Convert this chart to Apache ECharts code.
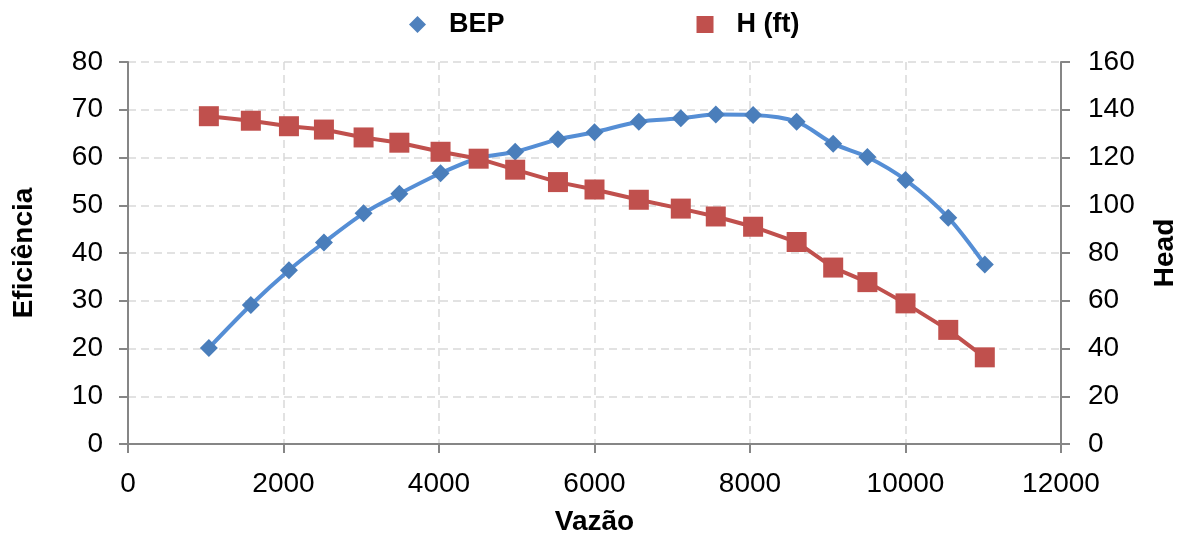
<!DOCTYPE html>
<html><head><meta charset="utf-8">
<script src="https://cdn.jsdelivr.net/npm/echarts@6/dist/echarts.min.js"></script>
<style>html,body{margin:0;padding:0;background:#fff}#c{width:1187px;height:541px}</style>
</head><body><div id="c"></div>
<script>
const flow = [1040, 1580, 2070, 2520, 3030, 3490, 4020, 4510, 4980, 5530, 6000, 6570, 7110, 7560, 8040, 8600, 9070, 9510, 10000, 10550, 11020];
const bep = [20.1, 29.1, 36.4, 42.2, 48.3, 52.4, 56.7, 59.9, 61.2, 63.8, 65.3, 67.5, 68.2, 69.0, 68.9, 67.5, 62.9, 60.1, 55.3, 47.4, 37.6];
const head = [137.3, 135.4, 133.1, 131.7, 128.4, 126.2, 122.4, 119.5, 114.9, 109.7, 106.6, 102.3, 98.6, 95.3, 91.0, 84.6, 73.9, 67.8, 58.9, 47.8, 36.3];
const xTicks = [0, 2000, 4000, 6000, 8000, 10000, 12000];

const font = 'Liberation Sans, Arial, sans-serif';
const axisLine = {show: true, lineStyle: {color: '#868686', width: 2}};
const tick = {show: true, length: 9, lineStyle: {color: '#868686', width: 2}};
const gridLine = {show: true, lineStyle: {color: '#d9d9d9', type: [8, 5], width: 1.5}};
const nameStyle = {fontSize: 28, fontWeight: 'bold', color: '#000', fontFamily: font};
const chart = echarts.init(document.getElementById('c'));
chart.setOption({
  animation: false,
  textStyle: {fontFamily: font},
  legend: {
    top: 6, left: 404, itemGap: 192, itemWidth: 17, itemHeight: 17,
    textStyle: {fontSize: 27, fontWeight: 'bold', color: '#000', fontFamily: font, padding: [0,0,0,18]},
    data: [{name: 'BEP', icon: 'diamond', itemStyle: {color: '#4F81BD'}},
           {name: 'H (ft)', icon: 'rect', itemStyle: {color: '#C0504D'}}]
  },
  grid: {left: 128, right: 121, top: 62, bottom: 95},
  xAxis: {
    type: 'value', min: 0, max: 12000, interval: 2000,
    name: 'Vazão', nameLocation: 'middle', nameGap: 64,
    nameTextStyle: nameStyle,
    axisLine: axisLine, axisTick: tick,
    axisLabel: {fontSize: 28, color: '#000', margin: 26, fontFamily: font,
      formatter: v => xTicks.includes(v) ? String(v) : ''},
    splitLine: gridLine
  },
  yAxis: [{
    type: 'value', min: 0, max: 80, interval: 10, position: 'left',
    name: 'Eficiência', nameLocation: 'middle', nameGap: 90, nameRotate: 90,
    nameTextStyle: nameStyle,
    axisLine: axisLine, axisTick: tick,
    axisLabel: {fontSize: 28, color: '#000', margin: 25, fontFamily: font},
    splitLine: gridLine
  }, {
    type: 'value', min: 0, max: 160, interval: 20, position: 'right',
    name: 'Head', nameLocation: 'middle', nameGap: 90, nameRotate: 90,
    nameTextStyle: nameStyle,
    axisLine: axisLine, axisTick: tick,
    axisLabel: {fontSize: 28, color: '#000', margin: 27, fontFamily: font},
    splitLine: {show: false}
  }],
  series: [{
    name: 'BEP', type: 'line', yAxisIndex: 0, smooth: 0.3,
    data: flow.map((x, i) => [x, bep[i]]),
    symbol: 'diamond', symbolSize: 18,
    itemStyle: {color: '#4A7EBB'},
    lineStyle: {color: '#558ED5', width: 4}
  }, {
    name: 'H (ft)', type: 'line', yAxisIndex: 1,
    data: flow.map((x, i) => [x, head[i]]),
    symbol: 'rect', symbolSize: 20,
    itemStyle: {color: '#C0504D'},
    lineStyle: {color: '#C0504D', width: 4}
  }]
});
</script></body></html>
